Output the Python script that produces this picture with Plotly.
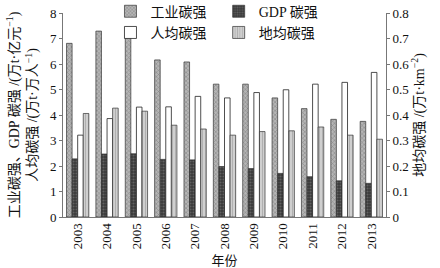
import plotly.graph_objects as go

years = ["2003", "2004", "2005", "2006", "2007", "2008", "2009", "2010", "2011", "2012", "2013"]
industry = [6.81, 7.29, 7.12, 6.16, 6.08, 5.21, 5.21, 4.67, 4.25, 3.83, 3.75]
gdp = [2.28, 2.47, 2.48, 2.26, 2.24, 1.98, 1.90, 1.71, 1.58, 1.42, 1.32]
per_capita = [3.21, 3.86, 4.31, 4.32, 4.73, 4.67, 4.88, 4.99, 5.21, 5.28, 5.67]
per_area = [0.406, 0.427, 0.415, 0.360, 0.345, 0.321, 0.335, 0.338, 0.353, 0.321, 0.305]

FONT = "Liberation Serif, Times New Roman, Noto Sans CJK SC, serif"
line = dict(color="#333333", width=0.7)

fig = go.Figure()
fig.add_trace(go.Bar(
    x=years, y=industry, name="工业碳强", offsetgroup="1", legend="legend",
    marker=dict(color="#9a9a9a", line=line,
                pattern=dict(shape="x", size=3, solidity=0.35, fgcolor="#5a5a5a", bgcolor="#b5b5b5")),
))
fig.add_trace(go.Bar(
    x=years, y=gdp, name="GDP 碳强", offsetgroup="2", legend="legend2",
    marker=dict(color="#444444", line=line,
                pattern=dict(shape=".", size=3, solidity=0.4, fgcolor="#8a8a8a", bgcolor="#3a3a3a")),
))
fig.add_trace(go.Bar(
    x=years, y=per_capita, name="人均碳强", offsetgroup="3", legend="legend",
    marker=dict(color="white", line=dict(color="#222222", width=0.8)),
))
fig.add_trace(go.Bar(
    x=years, y=per_area, name="地均碳强", offsetgroup="4", yaxis="y2", legend="legend2",
    marker=dict(color="#bdbdbd", line=line,
                pattern=dict(shape="|", size=3, solidity=0.3, fgcolor="#8a8a8a", bgcolor="#cfcfcf")),
))

legend_common = dict(
    orientation="v", yanchor="top", xanchor="left", y=1.02,
    font=dict(family=FONT, size=14), bgcolor="rgba(0,0,0,0)",
    itemwidth=30, tracegroupgap=0, traceorder="normal",
)

top = 204 / 217

fig.update_layout(
    width=440, height=268,
    margin=dict(l=63, r=54, t=0, b=51, autoexpand=False),
    paper_bgcolor="white", plot_bgcolor="white",
    barmode="group", bargap=0.24, bargroupgap=0,
    font=dict(family=FONT, size=13, color="#111111"),
    showlegend=True,
    legend=dict(x=0.147, **legend_common),
    legend2=dict(x=0.482, **legend_common),
    xaxis=dict(
        automargin=False,
        title=dict(text="年份", font=dict(size=13)),
        tickangle=-90, showline=True, linecolor="#777777", linewidth=1,
        ticks="", tickfont=dict(size=13), showgrid=False,
    ),
    yaxis=dict(
        automargin=True,
        domain=[0, top],
        title=dict(text="工业碳强、GDP 碳强 /(万t·亿元<sup>−1</sup>)<br>人均碳强 /(万t·万人<sup>−1</sup>)",
                   font=dict(size=14), standoff=8),
        range=[0, 8], dtick=1, showline=True, linecolor="#777777", linewidth=1,
        ticks="outside", ticklen=3, tickcolor="#777777", showgrid=False, zeroline=False,
        tickfont=dict(size=13),
    ),
    yaxis2=dict(
        automargin=True,
        title=dict(text="地均碳强 /(万t·km<sup>−2</sup>)", font=dict(size=14), standoff=2),
        range=[0, 0.8], dtick=0.1, overlaying="y", side="right",
        showline=True, linecolor="#777777", linewidth=1,
        ticks="outside", ticklen=3, tickcolor="#777777", showgrid=False, zeroline=False,
        tickfont=dict(size=13), tickformat="~g",
    ),
)

fig.write_html(
    "out.html",
    config={"displayModeBar": False},
    post_script="document.body.style.margin='0px';document.body.style.padding='0px';",
)
